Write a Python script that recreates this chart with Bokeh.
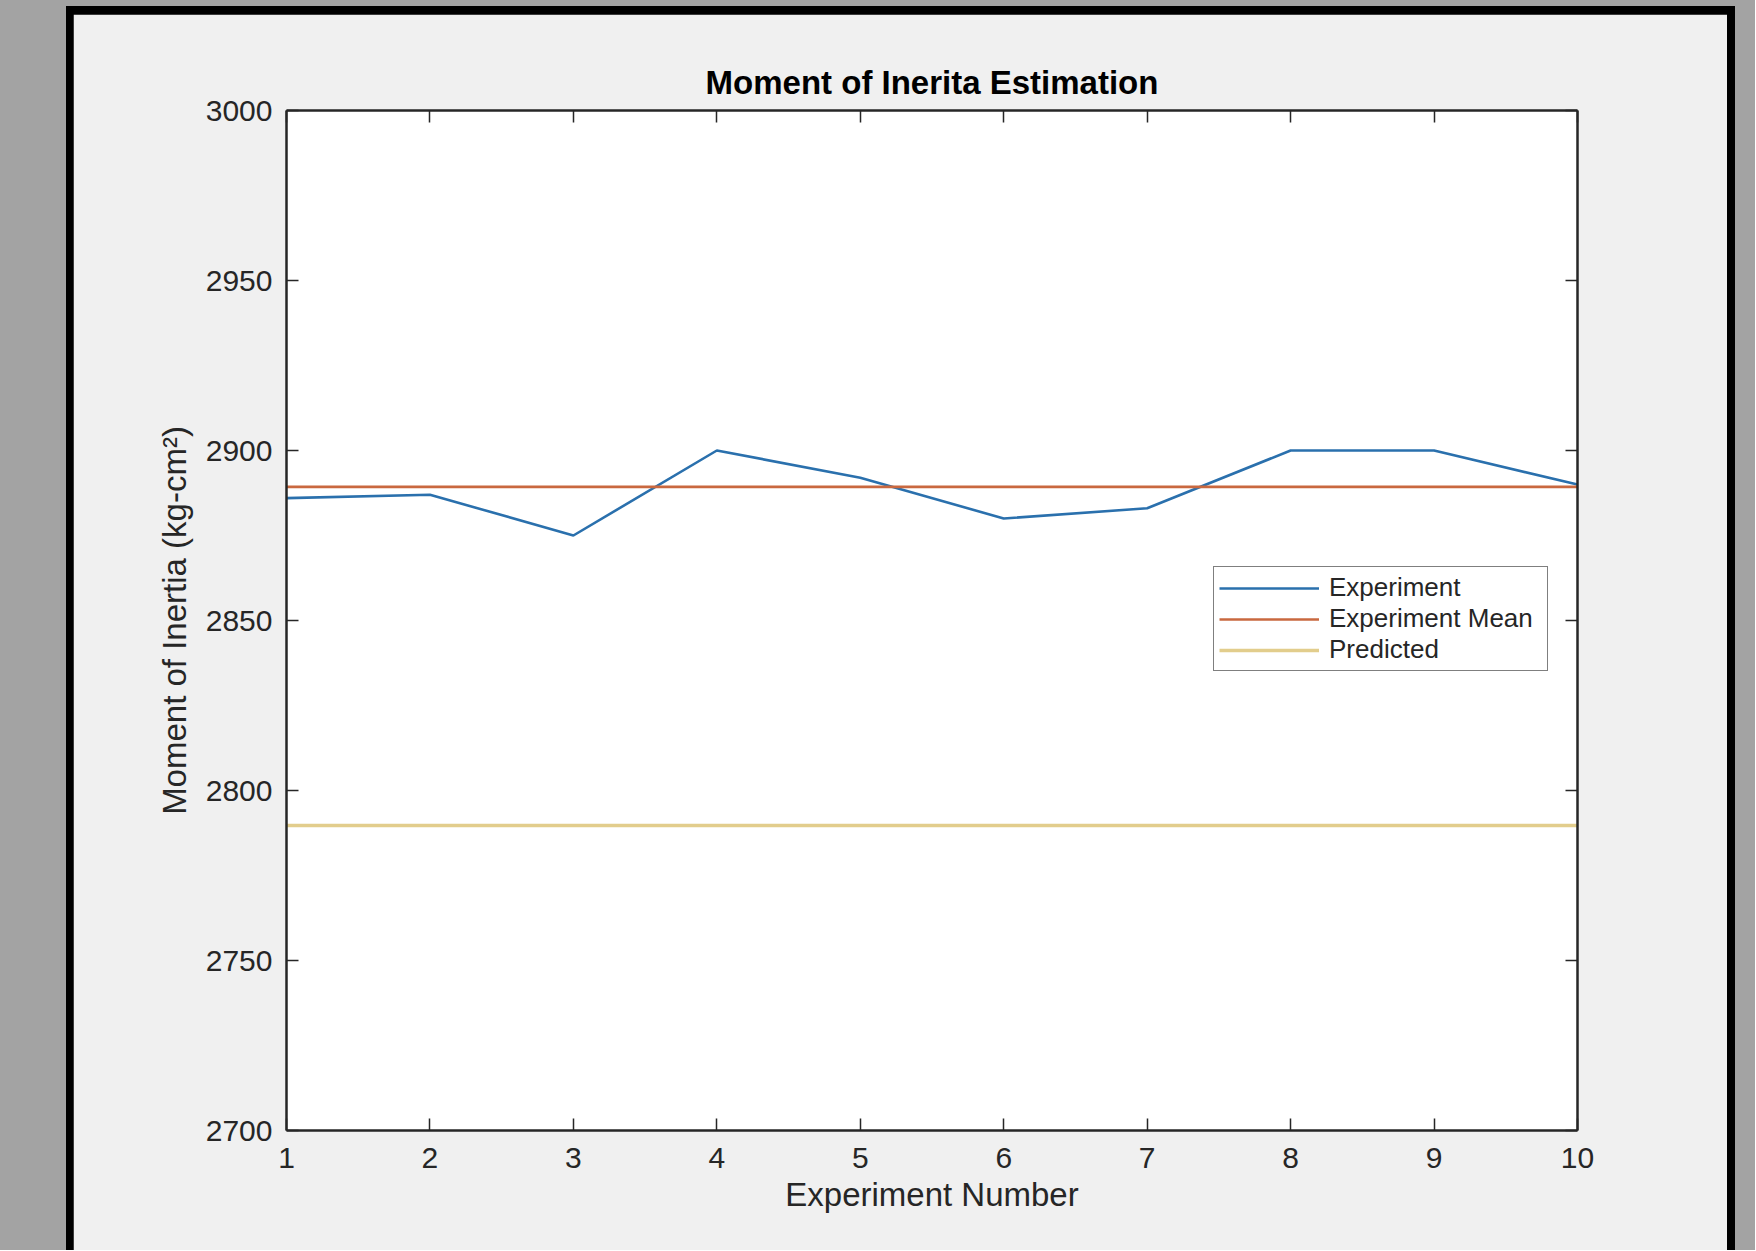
from bokeh.plotting import figure
from bokeh.models import (LinearAxis, FixedTicker, Range1d, Legend, LegendItem, Column)
from bokeh.embed import file_html
from bokeh.resources import INLINE

# ---- data ----
experiment = [1, 2, 3, 4, 5, 6, 7, 8, 9, 10]
moment = [2886, 2887, 2875, 2900, 2892, 2880, 2883, 2900, 2900, 2890]
experiment_mean = 2889.3
predicted = 2789.7
x_ticks = [1, 2, 3, 4, 5, 6, 7, 8, 9, 10]
y_ticks = [2700, 2750, 2800, 2850, 2900, 2950, 3000]

FONT = "Liberation Sans"
TXT = "#262626"

p = figure(width=1654, height=1236,
           x_range=Range1d(1, 10), y_range=Range1d(2700, 3000),
           output_backend="svg", toolbar_location=None,
           min_border_left=213, min_border_right=150,
           min_border_top=96, min_border_bottom=120,
           background_fill_color="white", border_fill_color="#f0f0f0",
           margin=(8, 8, 0, 7))
p.outline_line_color = None
p.grid.visible = False

p.title.text = "Moment of Inerita Estimation"
p.title.align = "center"
p.title.text_font = FONT
p.title.text_font_size = "33px"
p.title.text_font_style = "bold"
p.title.text_color = "black"
p.title.standoff = 20

def style_axis(ax, show_labels):
    ax.axis_line_color = TXT
    ax.axis_line_width = 2.5
    ax.major_tick_in = 12
    ax.major_tick_out = 0
    ax.major_tick_line_color = TXT
    ax.major_tick_line_width = 1.5
    ax.minor_tick_line_color = None
    ax.major_label_text_font = FONT
    ax.major_label_text_color = TXT
    if show_labels:
        ax.major_label_text_font_size = "30px"
    else:
        ax.major_label_text_color = None
        ax.major_label_text_font_size = "1px"
        ax.major_label_standoff = 0

xa = p.xaxis[0]
xa.ticker = FixedTicker(ticks=x_ticks)
style_axis(xa, True)
xa.major_label_standoff = 17
xa.axis_label = "Experiment Number"
xa.axis_label_text_font = FONT
xa.axis_label_text_font_size = "33px"
xa.axis_label_text_font_style = "normal"
xa.axis_label_text_color = TXT
xa.axis_label_standoff = 5

ya = p.yaxis[0]
ya.ticker = FixedTicker(ticks=y_ticks)
style_axis(ya, True)
ya.major_label_standoff = 14
ya.axis_label = "Moment of Inertia (kg-cm²)"
ya.axis_label_text_font = FONT
ya.axis_label_text_font_size = "33px"
ya.axis_label_text_font_style = "normal"
ya.axis_label_text_color = TXT
ya.axis_label_standoff = 10

top = LinearAxis(ticker=FixedTicker(ticks=x_ticks))
style_axis(top, False)
p.add_layout(top, "above")
right = LinearAxis(ticker=FixedTicker(ticks=y_ticks))
style_axis(right, False)
p.add_layout(right, "right")

r1 = p.line(experiment, moment, line_color="#2a70ad", line_width=2.6)
r2 = p.line([experiment[0], experiment[-1]], [experiment_mean] * 2,
            line_color="#c9683f", line_width=2.6)
r3 = p.line([experiment[0], experiment[-1]], [predicted] * 2,
            line_color="#e2cd8c", line_width=3.4)

legend = Legend(items=[LegendItem(label="Experiment", renderers=[r1]),
                       LegendItem(label="Experiment Mean", renderers=[r2]),
                       LegendItem(label="Predicted", renderers=[r3])],
                location=(927, 459), orientation="vertical",
                glyph_width=100, glyph_height=28, label_height=28,
                label_width=213, label_standoff=10, spacing=0, padding=5,
                margin=0, label_text_font=FONT, label_text_font_size="26px",
                label_text_color=TXT, border_line_color="black",
                border_line_width=1.8, background_fill_color="white",
                background_fill_alpha=1.0)
p.add_layout(legend, "center")

inner = Column(children=[p], background="black", margin=(6, 20, 0, 66))
outer = Column(children=[inner], background="#a3a3a3")

open("out.html", "w").write(file_html(outer, INLINE))
